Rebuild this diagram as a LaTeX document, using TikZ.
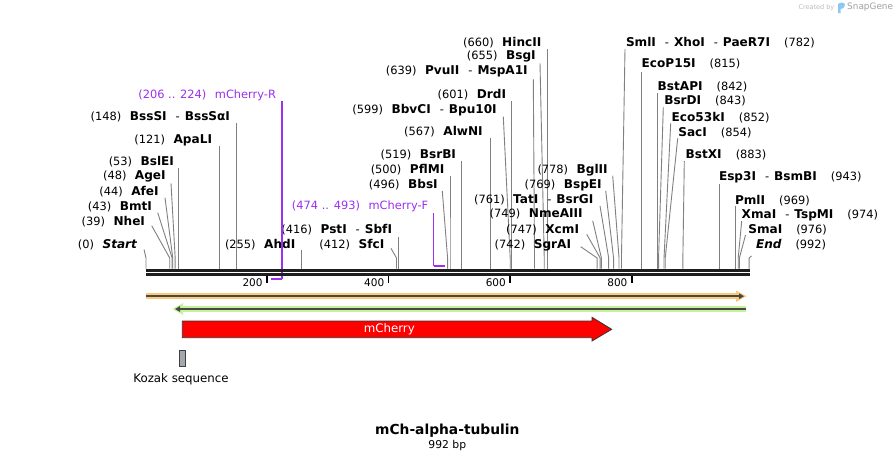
\documentclass[tikz,border=0pt]{standalone}
\usepackage{fontspec}
\setmainfont{DejaVu Sans}
\usetikzlibrary{arrows.meta}
\definecolor{sitegray}{RGB}{128,128,128}
\definecolor{bbcol}{RGB}{30,30,30}
\definecolor{primerc}{HTML}{9B30F0}
\definecolor{orangeband}{HTML}{FBC97C}
\definecolor{greenband}{HTML}{C4F39A}
\definecolor{featline}{HTML}{484848}
\definecolor{kozakc}{HTML}{A3A7AE}
\definecolor{wmgray}{HTML}{BDBDBD}
\definecolor{wmdark}{HTML}{A0A0A0}
\definecolor{wmblue}{HTML}{8CC8F2}
\newcommand\bx[1]{146+0.608*#1}
\newcommand\gp{\hspace{8.5pt}}
\newcommand\gr{\hspace{14pt}}
\newcommand\dsh{\hspace{9pt}-\hspace{5pt}}
\newcommand\B[1]{{\fontsize{12.1}{13}\selectfont\bfseries #1}}
\newcommand\BI[1]{{\fontsize{12.1}{13}\selectfont\bfseries\itshape #1}}
\tikzset{
  lbl/.style={inner sep=0pt, outer sep=0pt, font=\fontsize{11.4}{13}\selectfont, text=black},
  plbl/.style={lbl, text=primerc},
  siteline/.style={draw=sitegray, line width=0.9pt},
  primerline/.style={draw=primerc, line width=1.3pt},
  primerbar/.style={draw=primerc, line width=2.2pt},
  tickline/.style={draw=black, line width=1.8pt},
  ticklbl/.style={inner sep=0pt, font=\fontsize{10.5}{12}\selectfont, anchor=east},
}
% left-side label: name, bp, top x, top y, label east x, label y, text
\newcommand\cutL[7]{%
  \coordinate (#1-b) at (\bx{#2},268.5);
  \coordinate (#1-k) at (\bx{#2},258);
  \coordinate (#1-t) at (#3,#4);
  \node[lbl,anchor=east] (#1) at (#5,#6) {#7};
  \draw[siteline] (#1-b) -- (#1-k) -- (#1-t);
}
% right-side label
\newcommand\cutR[7]{%
  \coordinate (#1-b) at (\bx{#2},268.5);
  \coordinate (#1-k) at (\bx{#2},258);
  \coordinate (#1-t) at (#3,#4);
  \node[lbl,anchor=west] (#1) at (#5,#6) {#7};
  \draw[siteline] (#1-b) -- (#1-k) -- (#1-t);
}
\begin{document}
\begin{tikzpicture}[x=1pt,y=-1pt]
\useasboundingbox[fill=white] (0,0) rectangle (896,461);

% watermark
\node[anchor=east, inner sep=0pt, text=wmgray, font=\fontsize{6.5}{7}\selectfont] (wm1) at (834.5,7.5) {Created by};
\fill[wmblue] (838,13) -- (838,4) .. controls (840,2) and (845,2) .. (845,5) .. controls (845,8) and (842,9) .. (840.5,9) -- (840.5,13) -- cycle;
\node[anchor=west, inner sep=0pt, text=wmdark, font=\fontsize{8.9}{10}\selectfont] (wm2) at (847,7.5) {SnapGene};

% site lines and labels (left side)
\cutL{start}{0}{144}{249.5}{137}{244.5}{(0)\gp\BI{Start}}
\cutL{nhei}{39}{151.7}{225.7}{145}{221.7}{(39)\gp\B{NheI}}
\cutL{bmti}{43}{157.7}{212.7}{152}{206.7}{(43)\gp\B{BmtI}}
\cutL{afei}{44}{165}{197.7}{158.7}{191.7}{(44)\gp\B{AfeI}}
\cutL{agei}{48}{171}{183.3}{165.7}{176.7}{(48)\gp\B{AgeI}}
\cutL{bslei}{53}{\bx{53}}{168.3}{174}{161.7}{(53)\gp\B{BslEI}}
\cutL{apali}{121}{\bx{121}}{146}{212}{140}{(121)\gp\B{ApaLI}}
\cutL{bsssi}{148}{\bx{148}}{123.3}{230}{117}{(148)\gp\B{BssSI}\dsh\B{BssSαI}}
\cutL{ahdi}{255}{\bx{255}}{250}{295.3}{244.3}{(255)\gp\B{AhdI}}
\cutL{sfci}{412}{391}{248.3}{384.3}{245}{(412)\gp\B{SfcI}}
\cutL{psti}{416}{\bx{416}}{236.7}{392}{230}{(416)\gp\B{PstI}\dsh\B{SbfI}}
\cutL{bbsi}{496}{442.3}{191}{437.7}{184.3}{(496)\gp\B{BbsI}}
\cutL{pflmi}{500}{\bx{500}}{175.7}{444.3}{169.3}{(500)\gp\B{PflMI}}
\cutL{bsrbi}{519}{\bx{519}}{161}{456}{155}{(519)\gp\B{BsrBI}}
\cutL{alwni}{567}{\bx{567}}{137.7}{482.7}{131.7}{(567)\gp\B{AlwNI}}
\cutL{bbvci}{599}{503.3}{116.7}{496.7}{110}{(599)\gp\B{BbvCI}\dsh\B{Bpu10I}}
\cutL{drdi}{601}{\bx{601}}{101}{506}{94.3}{(601)\gp\B{DrdI}}
\cutL{pvuii}{639}{533.3}{79.3}{527.7}{71.7}{(639)\gp\B{PvuII}\dsh\B{MspA1I}}
\cutL{bsgi}{655}{540}{63.3}{535.7}{56.7}{(655)\gp\B{BsgI}}
\cutL{hincii}{660}{\bx{660}}{49}{541.3}{42.3}{(660)\gp\B{HincII}}
\cutL{sgrai}{742}{580.7}{246.7}{571}{245}{(742)\gp\B{SgrAI}}
\cutL{xcmi}{747}{586.7}{234.3}{579}{230}{(747)\gp\B{XcmI}}
\cutL{nmeaiii}{749}{592.7}{220.7}{582.7}{214.3}{(749)\gp\B{NmeAIII}}
\cutL{tati}{761}{600}{206}{593.3}{200}{(761)\gp\B{TatI}\dsh\B{BsrGI}}
\cutL{bspei}{769}{605.7}{190.7}{601.7}{185}{(769)\gp\B{BspEI}}
\cutL{bglii}{778}{612.7}{175.7}{607.7}{170}{(778)\gp\B{BglII}}

% right side
\cutR{smli}{782}{625}{49}{626}{42.7}{\B{SmlI}\dsh\B{XhoI}\dsh\B{PaeR7I}\gr(782)}
\cutR{ecop15i}{815}{\bx{815}}{71.7}{641.7}{64.3}{\B{EcoP15I}\gr(815)}
\cutR{bstapi}{842}{\bx{842}}{92.7}{657.7}{87.3}{\B{BstAPI}\gr(842)}
\cutR{bsrdi}{843}{663.3}{107.3}{664.3}{101}{\B{BsrDI}\gr(843)}
\cutR{eco53ki}{852}{670.7}{123.3}{671.7}{117.3}{\B{Eco53kI}\gr(852)}
\cutR{saci}{854}{677.7}{138.3}{678.3}{132.3}{\B{SacI}\gr(854)}
\cutR{bstxi}{883}{684.3}{161}{685.7}{155}{\B{BstXI}\gr(883)}
\cutR{esp3i}{943}{\bx{943}}{184}{719}{177.7}{\B{Esp3I}\dsh\B{BsmBI}\gr(943)}
\cutR{pmli}{969}{\bx{969}}{206}{735}{200.7}{\B{PmlI}\gr(969)}
\cutR{xmai}{974}{741.7}{221}{741.7}{215}{\B{XmaI}\dsh\B{TspMI}\gr(974)}
\cutR{smai}{976}{745.5}{235}{748.3}{230}{\B{SmaI}\gr(976)}
\cutR{end}{992}{751.5}{256}{756}{245}{\BI{End}\gr(992)}

% primers
\node[plbl,anchor=east] (primR) at (276,95) {(206 .. 224)\gp mCherry-R};
\coordinate (primR-t) at (282,101);
\coordinate (primR-c) at (282,279.3);
\coordinate (primR-e) at (\bx{206},279.3);
\draw[primerline] (primR-t) -- (primR-c);
\draw[primerbar] (primR-c) -- (primR-e);

\node[plbl,anchor=east] (primF) at (428.3,206.7) {(474 .. 493)\gp mCherry-F};
\coordinate (primF-t) at (433.5,213);
\coordinate (primF-c) at (433.5,266);
\coordinate (primF-e) at (444.5,266);
\draw[primerline] (primF-t) -- (primF-c);
\draw[primerbar] (primF-c) -- (primF-e);

% backbone
\coordinate (bbL1) at (146,270.5);
\coordinate (bbR1) at (749.5,270.5);
\coordinate (bbL2) at (146,274.6);
\coordinate (bbR2) at (749.5,274.6);
\draw[bbcol, line width=3pt] (bbL1) -- (bbR1);
\draw[bbcol, line width=2.4pt] (bbL2) -- (bbR2);

% ticks
\foreach \t in {200,400,600,800}{
  \coordinate (tk\t) at (\bx{\t}-0.8,275.5);
  \draw[tickline] (tk\t) -- ++(0,7.5);
  \node[ticklbl] (tl\t) at ([xshift=-4pt,yshift=-7pt]tk\t) {\t};
}

% orange feature (forward)
\coordinate (orS) at (146,296.2);
\coordinate (orE) at (744,296.2);
\draw[orangeband, line width=5.8pt] (orS) -- (737,296.2);
\fill[orangeband] (736,290.5) -- (746.5,296.2) -- (736,301.9) -- cycle;
\draw[featline, line width=1.8pt, -{Triangle[length=5pt,width=5.5pt]}] (orS) -- (orE);

% green feature (reverse)
\coordinate (grS) at (746,309);
\coordinate (grE) at (175,309);
\draw[greenband, line width=6pt] (grS) -- (181,309);
\fill[greenband] (183,303) -- (172.5,309) -- (183,315) -- cycle;
\draw[featline, line width=1.8pt, -{Triangle[length=5pt,width=5.5pt]}] (grS) -- (grE);

% mCherry
\draw[fill=red, draw=black!80, line width=0.8pt] (182.3,321) -- (592,321) -- (592,317.3) -- (611.7,329.3) -- (592,341) -- (592,337.7) -- (182.3,337.7) -- cycle;
\node[lbl, text=white, font=\fontsize{11.8}{13}\selectfont] (mcherry) at (389.3,329.3) {mCherry};

% Kozak
\node[draw=black!75, fill=kozakc, line width=0.8pt, minimum width=6.2pt, minimum height=16.5pt, inner sep=0pt] (kozak) at (182.5,358.3) {};
\node[lbl, font=\fontsize{11.8}{13}\selectfont] (kozaklbl) at (181,379.5) {Kozak sequence};

% title
\node[inner sep=0pt, font=\fontsize{13.8}{15}\selectfont\bfseries] (title) at (447.3,430.7) {mCh-alpha-tubulin};
\node[inner sep=0pt, font=\fontsize{10.8}{12}\selectfont] (len) at (447.3,445.3) {992 bp};
\end{tikzpicture}
\end{document}
